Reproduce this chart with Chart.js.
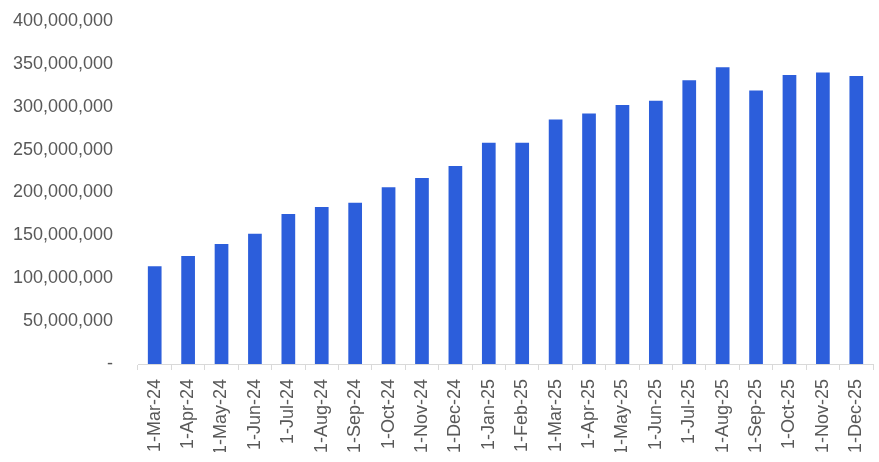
<!DOCTYPE html>
<html>
<head>
<meta charset="utf-8">
<script src="https://cdn.jsdelivr.net/npm/chart.js@4.4.1/dist/chart.umd.min.js"></script>
<style>
  html, body { margin: 0; padding: 0; background: #fff; }
  #wrap { width: 879px; height: 462px; }
</style>
</head>
<body>
<div id="wrap"><canvas id="grafico"></canvas></div>
<script>
// dados
const meses = ['1-Mar-24', '1-Apr-24', '1-May-24', '1-Jun-24', '1-Jul-24', '1-Aug-24', '1-Sep-24',
  '1-Oct-24', '1-Nov-24', '1-Dec-24', '1-Jan-25', '1-Feb-25', '1-Mar-25', '1-Apr-25', '1-May-25',
  '1-Jun-25', '1-Jul-25', '1-Aug-25', '1-Sep-25', '1-Oct-25', '1-Nov-25', '1-Dec-25'];
const valores = [114000000, 126000000, 140000000, 152000000, 175000000, 183000000, 188000000,
  206000000, 217000000, 231000000, 258000000, 258000000, 285000000, 292000000, 302000000,
  307000000, 331000000, 346000000, 319000000, 337000000, 340000000, 336000000];
const eixoY = { min: 0, max: 400000000, passo: 50000000 };

const fonte = { family: "'Liberation Sans', Arial, sans-serif", size: 18 };
const cinza = '#595959';

new Chart(document.getElementById('grafico'), {
  type: 'bar',
  data: {
    labels: meses,
    datasets: [{
      data: valores,
      backgroundColor: '#2C5EDB',
      categoryPercentage: 1,
      barPercentage: 0.41
    }]
  },
  options: {
    responsive: true,
    maintainAspectRatio: false,
    animation: false,
    layout: { padding: { top: 21, right: 6, bottom: 10, left: 13 } },
    plugins: { legend: { display: false }, tooltip: { enabled: false } },
    scales: {
      x: {
        grid: { display: true, drawOnChartArea: false, offset: true, tickLength: 6, color: '#d9d9d9' },
        border: { display: true, color: '#d9d9d9' },
        ticks: { color: cinza, font: fonte, minRotation: 90, maxRotation: 90, padding: 9, autoSkip: false },
        // tamanho fixo pra bater com o original
        afterFit: s => { s.paddingLeft = 0; s.paddingRight = 0; s.height = 88; }
      },
      y: {
        min: eixoY.min,
        max: eixoY.max,
        grid: { display: false, drawTicks: false },
        border: { display: false },
        ticks: {
          stepSize: eixoY.passo,
          color: cinza,
          font: fonte,
          padding: 25,
          callback: v => v === 0 ? '-' : v.toLocaleString('en-US')
        },
        afterFit: s => { s.paddingTop = 0; s.paddingBottom = 0; s.width = 125; }
      }
    }
  }
});
</script>
</body>
</html>
